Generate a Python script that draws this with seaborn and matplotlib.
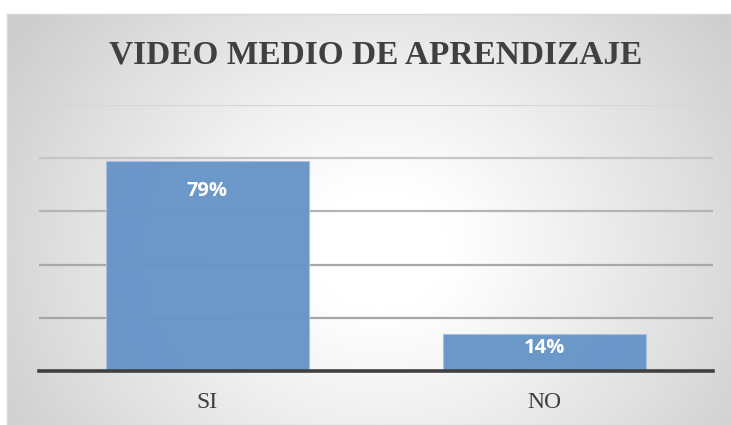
import numpy as np
import pandas as pd
import matplotlib
matplotlib.use("Agg")
import matplotlib.pyplot as plt
import seaborn as sns

categories = ["SI", "NO"]
values = [79, 14]
title = "VIDEO MEDIO DE APRENDIZAJE"

sns.set_style("white")
plt.rcParams["font.family"] = ["Liberation Serif", "DejaVu Serif"]

W, H = 731, 425
fig = plt.figure(figsize=(W / 100, H / 100), dpi=100)
fig.patch.set_facecolor("white")

# background radial gradient panel
bx0, by0, bx1, by1 = 7, 14, 731, 425
bg = fig.add_axes([bx0 / W, 1 - by1 / H, (bx1 - bx0) / W, (by1 - by0) / H], zorder=0)
gx = np.linspace(bx0, bx1, 400)
gy = np.linspace(by0, by1, 240)
XX, YY = np.meshgrid(gx, gy)
cx, cy = 380, 250
r = np.sqrt(((XX - cx) / 1.15) ** 2 + (YY - cy) ** 2)
t = np.clip((r - 60) / 330, 0, 1) ** 1.1
shade = 1.0 - t * (1.0 - 0.80)
img = np.dstack([shade, shade, shade])
bg.imshow(img, aspect="auto", extent=[0, 1, 0, 1], origin="upper")
bg.set_xlim(0, 1)
bg.set_ylim(0, 1)
bg.set_xticks([])
bg.set_yticks([])
for s in bg.spines.values():
    s.set_color("#d9d9d9")
    s.set_linewidth(1.0)

# main axes
ax = fig.add_axes([39 / W, 1 - 371 / H, (713 - 39) / W, (371 - 105) / H], zorder=1)
ax.patch.set_alpha(0)

df = pd.DataFrame({"cat": categories, "val": values})
ax.set_axisbelow(True)
ax.yaxis.grid(True, linewidth=1.6)
sns.barplot(data=df, x="cat", y="val", ax=ax, color="#6894c8", width=0.6,
            saturation=1, edgecolor="#a9c1e2", linewidth=0.8, alpha=0.97, zorder=2)

ax.set_ylim(0, 100)
ax.set_xlim(-0.5, 1.5)
ax.set_yticks([0, 20, 40, 60, 80, 100])
ax.set_yticklabels([])
ax.tick_params(axis="y", length=0)
ax.tick_params(axis="x", length=0, pad=15, labelsize=17, labelcolor="#404040")
ax.set_xlabel("")
ax.set_ylabel("")
for lbl in ax.get_xticklabels():
    lbl.set_fontfamily(["Liberation Serif", "DejaVu Serif"])

grid_cols = ["#ffffff", "#a6a6a6", "#a8a8a8", "#b4b4b4", "#c6c6c6", "#d6d6d6"]
for gl, c in zip(ax.get_ygridlines(), grid_cols):
    gl.set_color(c)

for s in ["left", "right", "top"]:
    ax.spines[s].set_visible(False)
ax.spines["bottom"].set_color("#404040")
ax.spines["bottom"].set_linewidth(2.6)
ax.spines["bottom"].set_zorder(3)

for i, v in enumerate(values):
    ypos = max(v - 11.3, v / 2 + 1.5)
    ax.text(i, ypos, f"{v}%", ha="center", va="center", color="white",
            fontsize=14.5, fontweight="bold", family=["Open Sans", "DejaVu Sans"], zorder=4)

fig.text(376 / W, 1 - 55 / H, title, ha="center", va="center", fontsize=24,
         fontweight="bold", color="#404040", family=["Liberation Serif", "DejaVu Serif"], zorder=5)

fig.savefig("out.png", dpi=100)
